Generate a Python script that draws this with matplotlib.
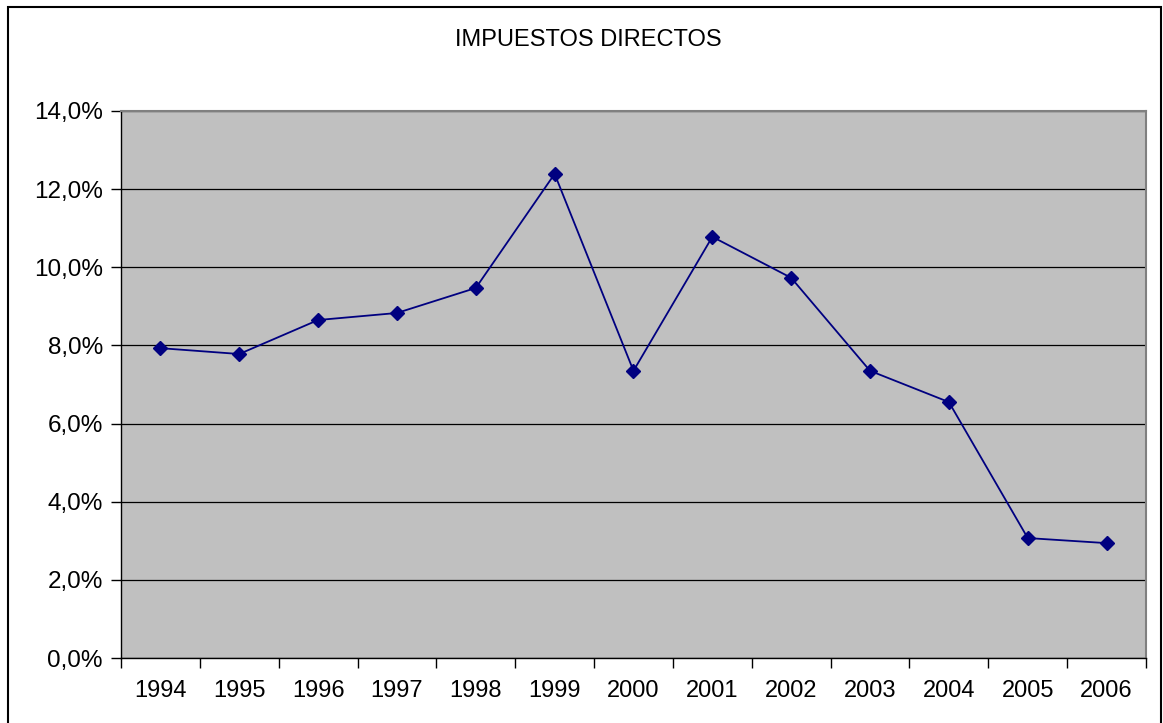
import matplotlib.pyplot as plt
from matplotlib.patches import Rectangle
from matplotlib.ticker import FixedLocator, FuncFormatter

plt.rcParams['font.family'] = ['Liberation Sans', 'DejaVu Sans']

# Data
years = ['1994', '1995', '1996', '1997', '1998', '1999', '2000',
         '2001', '2002', '2003', '2004', '2005', '2006']
rates = [7.93, 7.78, 8.65, 8.83, 9.47, 12.39, 7.35,
         10.78, 9.73, 7.35, 6.55, 3.07, 2.94]

fig = plt.figure(figsize=(11.63, 7.23), dpi=100)
ax = fig.add_axes([0.1040, 0.0899, 0.8814, 0.7566])

# outer chart frame
fig.patches.append(Rectangle((8 / 1163, -0.01), 1153 / 1163, (723 - 7) / 723 + 0.01,
                             transform=fig.transFigure, fill=False,
                             edgecolor='black', linewidth=1.5))

ax.set_facecolor('#c0c0c0')
x = list(range(len(years)))
ax.plot(x, rates, color='#000080', linewidth=1.3, marker='D', markersize=7,
        markerfacecolor='#000080', markeredgecolor='#000080', zorder=3)

ax.set_xlim(-0.5, len(years) - 0.5)
ax.set_ylim(0, 14)
ax.set_yticks(range(0, 15, 2))
ax.yaxis.set_major_formatter(FuncFormatter(lambda v, p: f'{v:.1f}%'.replace('.', ',')))
ax.grid(axis='y', color='black', linewidth=0.9)
ax.set_axisbelow(True)

# ticks between categories, labels at category centres
ax.xaxis.set_major_locator(FixedLocator([i - 0.5 for i in range(len(years) + 1)]))
ax.xaxis.set_major_formatter(FuncFormatter(lambda v, p: ''))
ax.xaxis.set_minor_locator(FixedLocator(x))
ax.set_xticklabels(years, minor=True)
ax.tick_params(axis='x', which='minor', length=0, labelsize=17, pad=16)
ax.tick_params(axis='x', which='major', length=7, width=1, color='black')
ax.tick_params(axis='y', length=7, width=1, labelsize=17.5, pad=6)

for side in ['top', 'right']:
    ax.spines[side].set_color('#808080')
    ax.spines[side].set_linewidth(1.5)
for side in ['left', 'bottom']:
    ax.spines[side].set_color('black')
    ax.spines[side].set_linewidth(1)

fig.text(0.5056, 1 - 40 / 723, 'IMPUESTOS DIRECTOS', ha='center', va='center', fontsize=17)

plt.savefig('out.png', dpi=100)
